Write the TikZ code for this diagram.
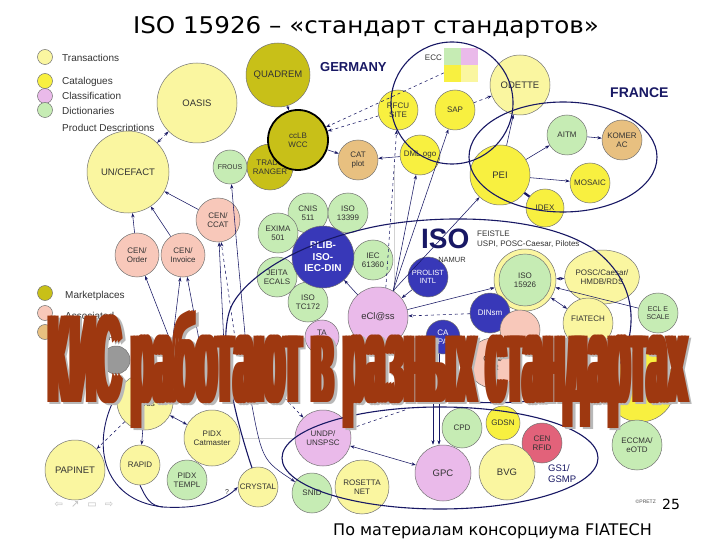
\documentclass[tikz,border=0pt]{standalone}
\usepackage{graphicx}
\usepackage{fontspec}
\setmainfont{Liberation Sans}
\newfontfamily\dvs{DejaVu Sans}
\usetikzlibrary{arrows.meta,shapes.geometric}
\definecolor{ty}{RGB}{250,246,160}
\definecolor{cy}{RGB}{248,240,64}
\definecolor{pk}{RGB}{234,186,234}
\definecolor{gr}{RGB}{198,236,180}
\definecolor{ol}{RGB}{200,192,24}
\definecolor{sa}{RGB}{248,200,186}
\definecolor{tn}{RGB}{232,192,128}
\definecolor{nv}{RGB}{56,56,184}
\definecolor{ln}{RGB}{24,24,100}
\definecolor{cr}{RGB}{226,98,122}
\definecolor{ru}{RGB}{158,56,16}
\definecolor{gy}{RGB}{128,128,128}
\newcommand\ovtext{\resizebox{639pt}{92pt}{\bfseries КИС работают в разных стандартах}}
\begin{document}
\begin{tikzpicture}[x=1pt,y=-1pt,
  >={Stealth[length=4.5pt,width=3.2pt]},
  nd/.style={circle,draw=black!55,line width=0.5pt,inner sep=0pt,align=center,text=black!80,font=\fontsize{8}{8.8}\selectfont},
  rad/.style={minimum size=#1*2pt},
  big/.style={font=\fontsize{9.5}{10.5}\selectfont},
  nvn/.style={nd,fill=nv,text=white},
  leg/.style={circle,draw=black!55,line width=0.5pt,minimum size=15pt,inner sep=0pt},
  lt/.style={anchor=west,inner sep=0pt,text=black!80,font=\fontsize{10}{10}\selectfont},
  ar/.style={draw=ln,line width=0.55pt},
  bd/.style={draw=ln,line width=1.1pt},
  lbl/.style={inner sep=0pt,text=black!80,font=\fontsize{8}{9.5}\selectfont}]
\useasboundingbox (0,0) rectangle (720,540);
\fill[white] (0,0) rectangle (720,540);

% guide lines
\draw[gray!35,line width=0.6pt] (394,165) -- (394,300);
\draw[gray!35,line width=0.6pt] (243,438) -- (295,438);

% title
\node[anchor=base,inner sep=0pt] (title) at (366,34) {\scalebox{1.07}[1]{\dvs\fontsize{23}{23}\selectfont ISO 15926 – «стандарт стандартов»}};

% legend
\node[leg,fill=ty] (lg1) at (45,57) {};
\node[lt] (lt1) at (62,58) {Transactions};
\node[leg,fill=cy] (lg2) at (45,81) {};
\node[lt] (lt2) at (62,82) {Catalogues};
\node[leg,fill=pk] (lg3) at (45,96) {};
\node[lt] (lt3) at (62,96) {Classification};
\node[leg,fill=gr] (lg4) at (45,110) {};
\node[lt] (lt4) at (62,111) {Dictionaries};
\node[lt] (lt5) at (62,129) {Product Descriptions};
\node[leg,fill=ol] (lg5) at (45,293) {};
\node[lt] (lt6) at (65,296) {Marketplaces};
\node[leg,fill=sa] (lg6) at (45,313) {};
\node[lt] (lt7) at (65,316) {Associated};
\node[leg,fill=tn] (lg7) at (45,332) {};
\node[lt] (lt8) at (65,336) {Workgroup};

% nodes
\node[nd,big,fill=ty,rad=40] (oasis) at (197,103) {OASIS};
\node[nd,big,fill=ty,rad=41] (unce) at (128,172) {UN/CEFACT};
\node[nd,big,fill=ol,rad=32] (quadrem) at (278,75) {QUADREM};
\node[nd,fill=gr,rad=17,font=\fontsize{7}{8}\selectfont] (frous) at (230,167) {FROUS};
\node[nd,fill=ol,rad=23] (trade) at (270,167) {TRADE\\RANGER};
\node[nd,fill=ol,rad=30,draw=black,line width=1.8pt] (cclb) at (298,140) {ccLB\\WCC};
\node[nd,fill=tn,rad=20] (catplot) at (358,160) {CAT\\plot};
\node[nd,fill=cy,rad=20] (refcu) at (398,110) {RFCU\\SITE};
\node[nd,fill=cy,rad=20] (sap) at (455,110) {SAP};
\node[nd,fill=cy,rad=20] (dml) at (420,155) {DML.ogo};
\node[nd,big,fill=ty,rad=30] (odette) at (520,85) {ODETTE};
\node[nd,fill=gr,rad=20] (aitm) at (567,135) {AITM};
\node[nd,fill=tn,rad=20] (komer) at (622,140) {KOMER\\AC};
\node[nd,big,fill=cy,rad=30] (pei) at (500,175) {PEI};
\node[nd,fill=cy,rad=20] (mosaic) at (590,183) {MOSAIC};
\node[nd,fill=cy,rad=19] (idex) at (545,208) {IDEX};
\node[inner sep=0pt,minimum size=34pt] (ecc) at (461,65) {};
\fill[gr] (444,48) rectangle (461,65);
\fill[pk] (461,48) rectangle (478,65);
\fill[cy] (444,65) rectangle (461,82);
\fill[ty] (461,65) rectangle (478,82);
\node[lbl,anchor=east] (ecct) at (442,58) {ECC};

\node[nd,fill=sa,rad=22] (cenccat) at (218,220) {CEN/\\CCAT};
\node[nd,fill=sa,rad=22] (cenorder) at (137,255) {CEN/\\Order};
\node[nd,fill=sa,rad=22] (ceninv) at (183,255) {CEN/\\Invoice};

\node[nd,fill=gr,rad=20] (cnis) at (308,213) {CNIS\\511};
\node[nd,fill=gr,rad=20] (iso13399) at (348,213) {ISO\\13399};
\node[nd,fill=gr,rad=20] (exima) at (278,233) {EXIMA\\501};
\node[nd,fill=gr,rad=20] (iec) at (373,260) {IEC\\61360};
\node[nd,fill=gr,rad=20] (jeita) at (277,277) {JEITA\\ECALS};
\node[nd,fill=gr,rad=20] (isotc) at (308,302) {ISO\\TC172};
\node[nvn,rad=31,font=\bfseries\fontsize{10}{11.5}\selectfont] (plib) at (323,257) {PLIB-\\ISO-\\IEC-DIN};
\node[nd,big,fill=pk,rad=30] (eclass) at (378,317) {eCl@ss};
\node[nvn,rad=20,font=\fontsize{7.5}{8.5}\selectfont] (prolist) at (428,277) {PROLIST\\INTL};

\node[nd,fill=ty,rad=31] (isoring) at (525,280) {};
\node[nd,fill=gr,rad=26] (iso15926) at (525,280) {ISO\\15926};
\node[nd,fill=ty,ellipse,minimum width=70pt,minimum height=54pt] (posc) at (602,277) {POSC/Caesar/\\HMDB/RDS};
\node[nd,fill=gr,rad=20,font=\fontsize{7}{8}\selectfont] (scale) at (658,313) {ECL E\\SCALE};
\node[nd,fill=ty,rad=25] (fiatech) at (588,323) {FIATECH\\ };
\node[nvn,rad=20] (dinsm) at (490,313) {DINsm};
\node[nd,fill=sa,rad=20] (sal2) at (520,330) {};
\node[nd,fill=pk,rad=17] (ta) at (322,337) {TA\\S};
\node[nvn,rad=17] (capa) at (443,337) {CA\\PA};
\node[nd,fill=sa,rad=25] (ceb) at (493,363) {CEN/\\HR};
\node[nd,fill=cy,rad=35] (bigyel) at (640,387) {};
\node[nd,fill=gy!80,rad=14] (grayn) at (116,360) {};

\node[nd,fill=pk,rad=28] (unspsc) at (323,438) {UNDP/\\UNSPSC};
\node[nd,big,fill=pk,rad=28] (gpc) at (443,473) {GPC};
\node[nd,fill=gr,rad=20] (cpd) at (462,428) {CPD};
\node[nd,fill=ty,rad=27] (rosetta) at (362,487) {ROSETTA\\NET};
\node[nd,fill=gr,rad=20] (snid) at (312,493) {SNID};
\node[nd,fill=ty,rad=20] (crystal) at (258,487) {CRYSTAL};
\node[nd,fill=cy,rad=17] (gdsn) at (503,423) {GDSN};
\node[nd,fill=cr,rad=20] (cenrfid) at (542,443) {CEN\\RFID};
\node[nd,big,fill=ty,rad=28] (bvg) at (507,472) {BVG};
\node[nd,fill=gr,rad=25] (eccma) at (637,445) {ECCMA/\\eOTD};

\node[nd,fill=ty,rad=28] (cards) at (145,402) {\\cards};
\node[nd,fill=ty,rad=28] (pidxcat) at (212,438) {PIDX\\Catmaster};
\node[nd,big,fill=ty,rad=30] (papinet) at (75,470) {PAPINET};
\node[nd,fill=ty,rad=20] (rapid) at (140,465) {RAPID};
\node[nd,fill=gr,rad=20] (pidxtempl) at (187,480) {PIDX\\TEMPL};

% texts
\node[anchor=base west,inner sep=0pt,text=ln,font=\bfseries\fontsize{13}{13}\selectfont] (germany) at (320,72) {GERMANY};
\node[anchor=base west,inner sep=0pt,text=ln,font=\bfseries\fontsize{14}{14}\selectfont] (france) at (610,98) {FRANCE};
\node[anchor=base west,inner sep=0pt,text=ln,font=\bfseries\fontsize{28}{28}\selectfont] (isobig) at (421,248) {ISO};
\node[lbl,anchor=north west,align=left] (feistle) at (477,231) {FEISTLE\\USPI, POSC-Caesar, Pilotes};
\node[lbl,anchor=center,font=\fontsize{7.5}{8}\selectfont] (namur) at (452,260) {NAMUR};
\node[anchor=west,inner sep=0pt,text=ln,align=left,font=\fontsize{9.5}{11}\selectfont] (gs1) at (548,474) {GS1/\\GSMP};
\node[lbl,font=\fontsize{7}{7}\selectfont] (qm) at (227,492) {?};

% connectors
\draw[ar,<->,dashed] (oasis) -- (unce);
\draw[ar,->] (cenorder) -- (unce);
\draw[ar,->] (ceninv) -- (unce);
\draw[ar,->] (cenccat) -- (unce);
\coordinate (h1) at (172,345);
\coordinate (h2) at (200,345);
\coordinate (h3) at (224,345);
\coordinate (h4) at (236,345);
\coordinate (h5) at (246,345);
\draw[ar,->] (h1) -- (cenorder);
\draw[ar,->] (h1) -- (ceninv);
\draw[ar,->] (h2) -- (ceninv);
\draw[ar,->] (h3) -- (cenccat);
\draw[ar,->,dashed] (h4) -- (cenccat);
\draw[ar,->] (h5) .. controls (238,260) .. (frous);
\draw[ar,->] (quadrem) -- (cclb);
\draw[ar,->] (cclb) -- (catplot);
\draw[ar,->] (dml) -- (catplot);
\draw[ar,->,dashed] (ecc) -- (cclb);
\draw[ar,->,dashed] (refcu) -- (cclb);
\draw[ar,->] (eclass.60) -- (dml);
\draw[ar,->] (eclass.60) -- (sap);
\draw[ar,->] (eclass.60) -- (pei);
\draw[ar,->,dashed] (eclass.75) -- (refcu);
\draw[ar,->] (pei) -- (odette);
\draw[ar,->,dashed] (sap) -- (odette);
\draw[ar,->] (pei) -- (aitm);
\draw[ar,->] (aitm) -- (komer);
\draw[ar,->] (pei) -- (mosaic);
\draw[ln,line width=2.2pt] (pei) -- (idex);
\draw[ar,->] (eclass) -- (plib);
\draw[ar,->] (prolist) -- (eclass);
\draw[ar,->] (eclass) -- (isoring);
\draw[ar,->,dashed] (dinsm) -- (eclass);
\draw[ar,<->] (isoring) -- (posc);
\draw[ar,->] (scale) -- (isoring);
\draw[ar,<->] (isoring) -- (fiatech);
\draw[ar,<->] (unspsc) -- (gpc);
\draw[ar,->] ([xshift=-10pt]capa.south) -- ([xshift=-10pt]gpc.north);
\draw[ar,->] ([xshift=-4pt]capa.south) -- ([xshift=-4pt]gpc.north);
\coordinate (h6) at (272,385);
\coordinate (h7) at (405,410);
\coordinate (h8) at (250,395);
\draw[ar,->,dashed] (h6) -- (unspsc);
\draw[ar,->,dashed] (h7) -- (unspsc);
\draw[ar,->] (h8) .. controls (262,460) .. (snid);
\draw[ar,->] (cards) -- (rapid);
\draw[ar,<->] (cards) -- (pidxcat);
\draw[ar,->,dashed] (cards) -- (papinet);
\coordinate (lp1) at (118,392);
\coordinate (lp2) at (163,507);
\draw[bd,line width=0.9pt] (lp1) .. controls (90,440) and (100,500) .. (lp2);
\draw[ar,line width=0.9pt,->] (rapid.south) .. controls (146,498) and (150,506) .. (lp2) .. controls (195,509) and (222,503) .. (crystal.west);

% boundaries
\draw[bd] (452,103) circle[radius=61pt];
\draw[bd] (563,157) ellipse[x radius=94pt,y radius=55pt];
\draw[bd] (440,458) ellipse[x radius=158pt,y radius=51pt];
\draw[bd] (252,468) .. controls (236,420) and (215,340) .. (232,305)
  .. controls (245,280) and (290,245) .. (373,227)
  .. controls (430,215) and (540,212) .. (595,250)
  .. controls (640,285) and (635,330) .. (622,360)
  .. controls (600,400) and (520,405) .. (470,402);

% footer
\node[anchor=base east,inner sep=0pt,font=\dvs\fontsize{16}{16}\selectfont] (footer) at (652,535) {По материалам консорциума FIATECH};
\node[anchor=base west,inner sep=0pt,font=\dvs\fontsize{14}{14}\selectfont] (pg) at (662,509) {25};
\node[anchor=base east,inner sep=0pt,text=black!70,font=\fontsize{5}{5}\selectfont] (cpr) at (656,503) {©PRETZ};
\node[anchor=base,inner sep=0pt,text=black!25,font=\dvs\fontsize{10}{10}\selectfont] (nav) at (84,507) {⇦\hspace{8pt}↗\hspace{8pt}▭\hspace{8pt}⇨};

% overlay (thickened by offset copies)
\foreach \dx/\k in {0/a,3/b,6/c}
  \node[anchor=base west,inner sep=0pt,text=black!28] (ovs\k) at (47.5+\dx,404.5) {\ovtext};
\foreach \dx/\k in {0/a,3/b,6/c}
  \node[anchor=base west,inner sep=0pt,text=ru] (ov\k) at (45+\dx,402) {\ovtext};
\end{tikzpicture}
\end{document}
